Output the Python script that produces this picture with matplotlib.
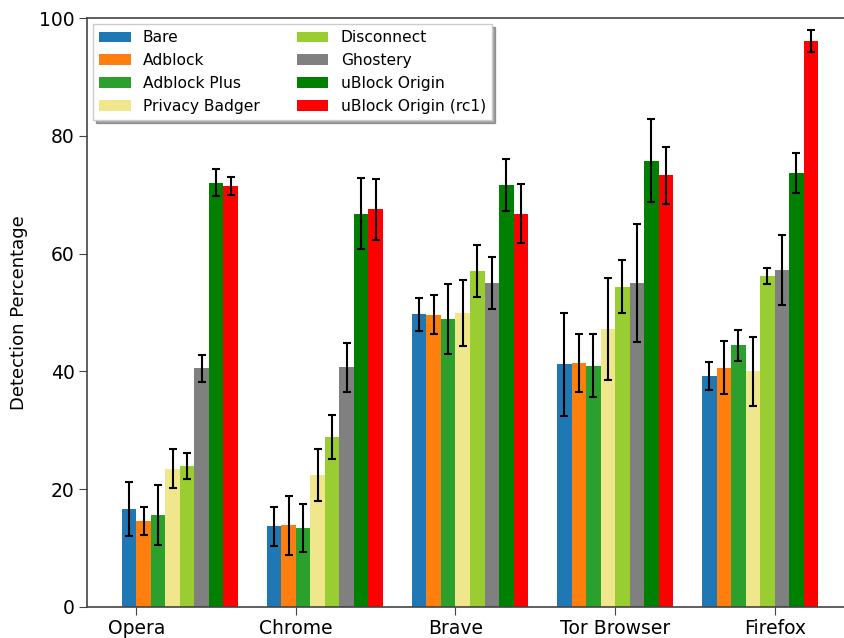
#!/usr/bin/env python3
"""
Detection percentage per browser and blocker extension
"""

import matplotlib
matplotlib.use('Agg')
import matplotlib.pyplot as plt
import numpy as np

browsers = ['Opera', 'Chrome', 'Brave', 'Tor Browser', 'Firefox']
extensions = ['Bare', 'Adblock', 'Adblock Plus', 'Privacy Badger',
              'Disconnect', 'Ghostery', 'uBlock Origin', 'uBlock Origin (rc1)']
colors = ['#1f77b4', '#ff7f0e', '#2ca02c', 'khaki',
          'yellowgreen', 'gray', 'green', 'red']

# detection percentage per extension, one entry per browser
bare = [16.6, 13.7, 49.7, 41.2, 39.2]
adblock = [14.6, 13.9, 49.6, 41.4, 40.6]
adblock_plus = [15.6, 13.4, 48.9, 41.0, 44.4]
privacy_badger = [23.5, 22.4, 49.9, 47.2, 40.0]
disconnect = [23.9, 28.9, 57.0, 54.4, 56.2]
ghostery = [40.5, 40.7, 55.0, 55.0, 57.2]
ublock = [72.0, 66.8, 71.7, 75.8, 73.7]
ublock_rc1 = [71.5, 67.5, 66.8, 73.3, 96.1]

# standard deviations
bare_err = [4.6, 3.3, 2.8, 8.7, 2.4]
adblock_err = [2.4, 5.0, 3.3, 4.9, 4.5]
adblock_plus_err = [5.1, 4.1, 5.9, 5.4, 2.6]
privacy_badger_err = [3.3, 4.4, 5.6, 8.6, 5.8]
disconnect_err = [2.2, 3.7, 4.4, 4.5, 1.3]
ghostery_err = [2.3, 4.2, 4.4, 10.0, 6.0]
ublock_err = [2.3, 6.1, 4.4, 7.0, 3.4]
ublock_rc1_err = [1.5, 5.2, 5.0, 4.8, 1.9]

values = [bare, adblock, adblock_plus, privacy_badger,
          disconnect, ghostery, ublock, ublock_rc1]
errors = [bare_err, adblock_err, adblock_plus_err, privacy_badger_err,
          disconnect_err, ghostery_err, ublock_err, ublock_rc1_err]

plt.rcParams['font.family'] = 'DejaVu Sans'

fig = plt.figure(figsize=(8.44, 6.38), dpi=100)
# axes reaches past the right edge of the figure (the original was cropped)
ax = fig.add_axes([87 / 844, 31 / 638, 766 / 844, 589 / 638])

ind = np.arange(len(browsers))
width = 0.1

for k, (name, vals, errs, c) in enumerate(zip(extensions, values, errors, colors)):
    ax.bar(ind + k * width, vals, width, align='edge', color=c, label=name)
    ax.errorbar(ind + k * width + width / 2, vals, yerr=errs, fmt='none',
                ecolor='black', elinewidth=1.5, capsize=3, capthick=1.5)

ax.set_xticks(ind + width * (ind + 1))
ax.set_xticklabels(browsers, fontsize=13.5)
ax.tick_params(axis='y', labelsize=13.5)
ax.tick_params(length=5.5, pad=3.5, color='#444444')
ax.set_ylabel('Detection Percentage', fontsize=13, labelpad=8)
ax.set_xlim(-0.24, 5.04)
ax.set_ylim(0, 100)
ax.spines['right'].set_visible(False)
for s in ['left', 'top', 'bottom']:
    ax.spines[s].set_color('#444444')
    ax.spines[s].set_linewidth(1.2)

ax.legend(loc='upper left', ncol=2, fontsize=11.2, shadow=True, fancybox=False,
          handlelength=2.0, columnspacing=2.4, borderaxespad=0.4)

plt.savefig('out.png', dpi=100)
plt.close()
